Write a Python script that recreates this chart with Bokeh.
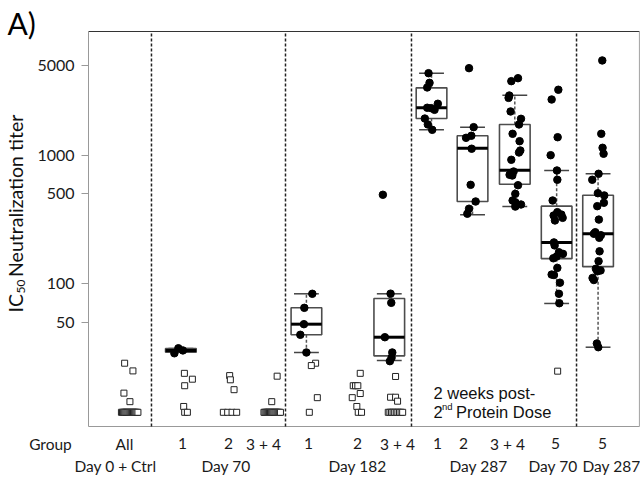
import math
from bokeh.plotting import figure
from bokeh.models import (Range1d, FixedTicker, PrintfTickFormatter, Label,
                          LabelSet, ColumnDataSource)
from bokeh.core.properties import value
from bokeh.embed import file_html
from bokeh.resources import INLINE

# ---------------- data ----------------
group_names = ["All D0+Ctrl", "D70 G1", "D70 G2", "D70 G3+4",
               "D182 G1", "D182 G2", "D182 G3+4",
               "D287 G1", "D287 G2", "D287 G3+4", "D70 G5", "D287 G5"]
group_pos = [1.0, 2.23, 3.4, 4.44, 5.26, 6.47, 7.26, 8.28, 9.27, 10.29, 11.3, 12.3]
separators = [1.52, 4.755, 7.796, 11.78]

# responders (filled circles): titer values and horizontal jitter (px)
filled_vals = {
    1: [28.8, 31.5, 30.3],
    4: [83.6, 65, 48.5, 40.1, 29.2],
    6: [493, 83.8, 71.1, 38.4, 29.2, 26.6, 25],
    7: [4355, 3664, 3373, 2518, 2259, 2328, 2344, 1932, 1738, 1578],
    8: [4765, 1656, 1419, 1368, 1125, 589, 437, 384, 351],
    9: [3776, 3981, 2919, 2798, 2193, 1923, 1738, 1470, 1288, 1090, 1052,
        923, 748, 718, 696, 705, 585, 501, 445, 431, 414, 399],
    10: [3236, 2718, 1383, 1002, 762, 645, 445, 361, 346, 340, 326, 311,
         210, 199, 176, 171, 158, 163, 133, 118, 117, 102, 83.6, 70.6],
    11: [5470, 1470, 1144, 1028, 718, 645, 507, 487, 427, 402, 316, 252,
         245, 239, 228, 179, 150, 131, 127, 125, 111, 107, 34.3, 32.1],
}
filled_jit = {
    1: [-6.5, -2.5, 2],
    4: [5.9, -2.1, -2.5, -6.1, 0],
    6: [-6.4, 1.3, 2, -4.4, 3, 2.3, 0.6],
    7: [-3, -2, -4.3, 6.3, 3, -0.3, -4.3, -6.7, -3.7, 0.7],
    8: [-3.5, 1.1, -1.2, -6.5, -0.9, -1.9, 3.1, -3.5, -5.2],
    9: [-3.5, 3.2, -5.5, -6.2, -4.2, 6.2, 4.2, -2.2, 4.8, 5.5, 4.2,
        -3.5, -1.2, -3.8, -2.5, -5.2, 3.2, 0.5, -2.2, 0.5, 6.2, 0.5],
    10: [1.7, -5, 1, -6, 0.3, 0.7, -4, 0.7, 4.7, -3, 6, -1.7,
         -2.7, -2, 2.3, 6.3, -3.3, 0, 0.7, -5, -2.7, 3.3, 2.3, 2.7],
    11: [4.2, 3.2, 4.5, 5.5, 0.5, -5.8, -0.2, 6.2, 5.8, -0.8, 0.8, -2.8,
         -4.2, 2.8, 1.2, 1.5, 0.5, -2.2, 2.5, -0.8, -5.5, -4.2, -1.2, 0.2],
}

# non-responders (open squares)
open_vals = {
    0: [24.1, 21.0, 14.1, 12.1] + [10] * 16,
    1: [20.1, 18.1, 16.1, 11.1, 10, 10],
    2: [19.3, 17.9, 15.0, 10, 10, 10, 10],
    3: [19.1, 12.1] + [10] * 16,
    4: [24.1, 23.1, 13.0, 10],
    5: [20.1, 16.1, 16.1, 16.1, 14.0, 13.0, 11.1, 10, 10],
    6: [19.0, 13.1, 13.1, 12.2] + [10] * 10,
    10: [20.9],
}
open_jit = {
    0: [-5.3, 3, -6, 0, -8.5, -7.4, -6.3, -5.2, -4.1, -3, -1.9, -0.8, 0.3,
        1.4, 2.5, 3.6, 4.7, 5.8, 6.9, 8],
    1: [3.5, 11.5, 3.8, 2.8, 3.8, 6.5],
    2: [0.3, 1, 4.7, -6, -1.7, 2.7, 7.3],
    3: [4.7, -0.7, -8.5, -7.4, -6.3, -5.2, -4.1, -3, -1.9, -0.8, 0.3,
        1.4, 2.5, 3.6, 4.7, 5.8, 6.9, 8],
    4: [9.2, 4.9, 10.9, 2.9],
    5: [3.7, -3.3, -1, 1.3, 3.7, -4.3, 0.3, 1.7, 5],
    6: [6.3, 1.3, 6.3, 8.3, -1, 0.6, 2.2, 3.8, 5.4, 7, 8.6, 10.2, 11.8, 13.4],
    10: [1],
}

# box statistics
box_groups = [1, 4, 6, 7, 8, 9, 10, 11]
box_q1 = [29.3, 40.1, 27.5, 1932, 437, 596, 157, 136]
box_med = [30.3, 48.5, 38.4, 2344, 1135, 766, 210, 245]
box_q3 = [31.3, 65.1, 76.9, 3350, 1419, 1738, 402, 489]
box_lo = [29.3, 29.2, 25.3, 1578, 344, 399, 70.3, 32.1]
box_hi = [31.3, 83.6, 83.6, 4355, 1656, 2938, 762, 718]

y_ticks = [50, 100, 500, 1000, 5000]

row1_text = ["Group", "All", "1", "2", "3 + 4", "1", "2", "3 + 4", "1", "2", "3 + 4", "5", "5"]
row2_text = ["Day 0 + Ctrl", "Day 70", "Day 182", "Day 287", "Day 70", "Day 287"]

# ---------------- layout helpers (page pixels -> data) ----------------
W, H = 640, 476
PXU = 551 / 13.3          # pixels per x unit; plot box spans x units 0 .. 13.3
BOX_L, BOX_R, BOX_T, BOX_B = 88, 639, 31, 426


def dx(px):
    return (px - BOX_L) / PXU


def dy(py):
    return 10 ** (2 + (283.3 - py) / 128.5)


p = figure(width=W, height=H, output_backend="svg", toolbar_location=None,
           x_range=Range1d(dx(0), dx(W)), y_range=Range1d(dy(H), dy(0)),
           y_axis_type="log", x_axis_location=None,
           min_border=0, min_border_left=0, min_border_right=0,
           min_border_top=0, min_border_bottom=0)
p.xgrid.visible = False
p.ygrid.visible = False
p.outline_line_color = None
p.background_fill_color = "white"
p.border_fill_color = "white"

XL, XR, YB, YT = dx(BOX_L), dx(BOX_R), dy(BOX_B), dy(BOX_T)

ax = p.yaxis[0]
ax.fixed_location = XL
ax.bounds = (YB, YT)
ax.ticker = FixedTicker(ticks=y_ticks, minor_ticks=[])
ax.formatter = PrintfTickFormatter(format="%d")
ax.major_label_text_font = "Lato"
ax.major_label_text_font_size = "16px"
ax.major_label_text_color = "#1a1a1a"
ax.major_tick_out = 7
ax.major_tick_in = 0
ax.minor_tick_out = 0
ax.minor_tick_in = 0
ax.axis_line_color = "#999999"
ax.major_tick_line_color = "#999999"
ax.major_label_standoff = 7

# plot box (top dark, others grey)
p.segment(x0=[XL], y0=[YT], x1=[XR], y1=[YT], line_color="#333333", line_width=1.2)
p.segment(x0=[XL], y0=[YB], x1=[XR], y1=[YB], line_color="#999999", line_width=1.2)
p.segment(x0=[XR], y0=[YB], x1=[XR], y1=[YT], line_color="#aaaaaa", line_width=1.2)

# group separators
p.segment(x0=separators, y0=[YB] * len(separators), x1=separators,
          y1=[YT] * len(separators), line_color="#222222", line_width=1.5,
          line_dash="3 2")

# boxes
bx = [group_pos[g] for g in box_groups]
HW, CW = 0.37, 0.30
p.segment(x0=bx, y0=box_q3, x1=bx, y1=box_hi, line_color="#555555",
          line_width=1.5, line_dash="3 2")
p.segment(x0=bx, y0=box_q1, x1=bx, y1=box_lo, line_color="#555555",
          line_width=1.5, line_dash="3 2")
p.segment(x0=[x - CW for x in bx], y0=box_hi, x1=[x + CW for x in bx], y1=box_hi,
          line_color="#444444", line_width=1.5)
p.segment(x0=[x - CW for x in bx], y0=box_lo, x1=[x + CW for x in bx], y1=box_lo,
          line_color="#444444", line_width=1.5)
p.quad(left=[x - HW for x in bx], right=[x + HW for x in bx], bottom=box_q1,
       top=box_q3, fill_color="white", line_color="#4d4d4d", line_width=1.6)
p.segment(x0=[x - HW for x in bx], y0=box_med, x1=[x + HW for x in bx], y1=box_med,
          line_color="black", line_width=3)

# points
ox, oy = [], []
for g, vals in open_vals.items():
    for v, j in zip(vals, open_jit[g]):
        ox.append(group_pos[g] + j / PXU)
        oy.append(v)
p.scatter(ox, oy, marker="square", size=6, fill_color="white",
          line_color="#222222", line_width=1)

fx, fy = [], []
for g, vals in filled_vals.items():
    for v, j in zip(vals, filled_jit[g]):
        fx.append(group_pos[g] + j / PXU)
        fy.append(v)
p.scatter(fx, fy, marker="circle", size=7.5, fill_color="black",
          line_color="black")

# ---------------- texts ----------------
FONT = "Lato"


def lab(px, py, text, size, font=FONT, angle=0.0, color="#111111"):
    p.add_layout(Label(x=dx(px), y=dy(py), text=text, text_font=font,
                       text_font_size=size, angle=angle, text_color=color,
                       text_align="left", text_baseline="middle"))


lab(7, 22.5, "A)", "30px", color="black")

# rotated y label with subscript
lab(15, 312, "IC", "19.5px", angle=math.pi / 2)
lab(20.5, 293, "50", "12px", angle=math.pi / 2)
lab(15, 276.5, "Neutralization titer", "19.5px", angle=math.pi / 2)

# group row and day row
row1_px = [50, 124, 182, 228, 263, 308, 357, 397, 437, 463, 507, 555, 602]
r1 = ColumnDataSource(dict(x=[dx(v) for v in row1_px], y=[dy(443)] * len(row1_px),
                           t=row1_text))
p.add_layout(LabelSet(x="x", y="y", text="t", source=r1, text_font=value(FONT),
                      text_font_size=value("15.5px"), text_color="#1a1a1a",
                      text_align="center", text_baseline="middle"))
row2_px = [115, 225.5, 357, 478, 552.5, 611]
r2 = ColumnDataSource(dict(x=[dx(v) for v in row2_px], y=[dy(465)] * len(row2_px),
                           t=row2_text))
p.add_layout(LabelSet(x="x", y="y", text="t", source=r2, text_font=value(FONT),
                      text_font_size=value("15.5px"), text_color="#1a1a1a",
                      text_align="center", text_baseline="middle"))

# annotation
AF = "Liberation Sans"
lab(433, 392, "2 weeks post-", "16.5px", font=AF)
lab(433, 411, "2", "16.5px", font=AF)
lab(441.5, 406, "nd", "9.5px", font=AF)
lab(455.5, 411, "Protein Dose", "16.5px", font=AF)

open("out.html", "w").write(file_html(p, INLINE))
